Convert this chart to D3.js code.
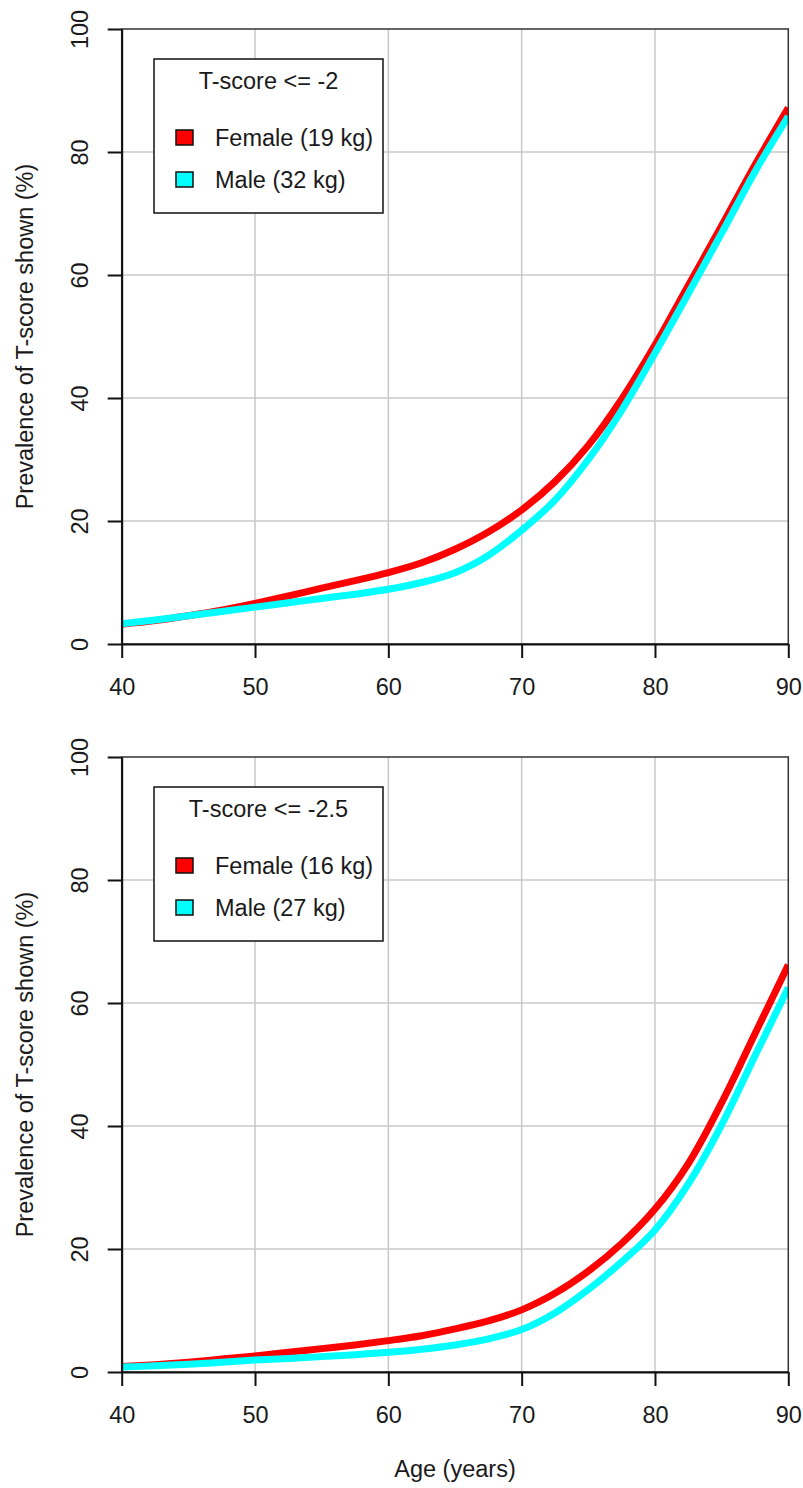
<!DOCTYPE html>
<html>
<head>
<meta charset="utf-8">
<script src="https://cdn.jsdelivr.net/npm/d3@7"></script>
<style>
  html, body { margin: 0; padding: 0; background: #fff; }
  svg { display: block; font-family: "Liberation Sans", Arial, Helvetica, sans-serif; }
</style>
</head>
<body>
<svg id="chart" width="803" height="1488"></svg>
<script>
// Age grid (years) on which the prevalence curves are tabulated
const ages = [40, 42.5, 45, 47.5, 50, 52.5, 55, 57.5, 60, 62.5, 65, 67.5, 70, 72.5, 75, 77.5, 80, 82.5, 85, 87.5, 90];

// Prevalence (%) of T-score <= -2
const femaleT2 = [3.2, 3.8, 4.6, 5.5, 6.6, 7.8, 9.1, 10.3, 11.6, 13.2, 15.4, 18.2, 21.8, 26.4, 32.3, 39.8, 48.6, 58.3, 68.0, 77.9, 87.2];
const maleT2   = [3.3, 3.9, 4.6, 5.3, 6.0, 6.7, 7.4, 8.1, 8.9, 10.0, 11.6, 14.4, 18.5, 23.4, 30.0, 38.0, 47.3, 57.0, 66.8, 76.8, 85.8];

// Prevalence (%) of T-score <= -2.5
const femaleT25 = [0.9, 1.2, 1.6, 2.1, 2.6, 3.2, 3.8, 4.4, 5.1, 5.9, 7.0, 8.3, 10.1, 12.8, 16.4, 20.9, 26.5, 33.9, 43.8, 55.0, 66.2];
const maleT25   = [0.8, 1.0, 1.25, 1.6, 1.95, 2.2, 2.5, 2.8, 3.2, 3.7, 4.4, 5.4, 6.9, 9.6, 13.4, 17.9, 23.1, 30.6, 40.2, 51.4, 62.5];

// Axis ticks and labels
const xTicks = [40, 50, 60, 70, 80, 90];
const yTicks = [0, 20, 40, 60, 80, 100];
const legendTitles = ["T-score <= -2", "T-score <= -2.5"];
const femaleLabels = ["Female (19 kg)", "Female (16 kg)"];
const maleLabels = ["Male (32 kg)", "Male (27 kg)"];
const seriesNames = ["Female", "Male"];
const seriesColors = ["#ff0000", "#00ffff"];
const xTitle = "Age (years)";
const yTitle = "Prevalence of T-score shown (%)";

const panelData = [
  { female: femaleT2, male: maleT2 },
  { female: femaleT25, male: maleT25 }
];

const svg = d3.select("#chart");
const FONT = 23.5;
const textColor = "#1a1a1a";

const left = 121.7, right = 788.3;
const plotTop = 29, plotBottom = 644;
const panelShift = 728;

const x = d3.scaleLinear().domain([40, 90]).range([left, right]);

panelData.forEach((pd, i) => {
  const off = i * panelShift;
  const y = d3.scaleLinear().domain([0, 100]).range([plotBottom + off, plotTop + off]);
  const g = svg.append("g");

  // clip region for the curves
  const clipId = "clip" + i;
  svg.append("clipPath").attr("id", clipId)
    .append("rect")
    .attr("x", x(40)).attr("y", y(100))
    .attr("width", x(90) - x(40)).attr("height", y(0) - y(100));

  // grid lines
  g.append("g").selectAll("line")
    .data(xTicks.filter(t => t > 40 && t < 90))
    .join("line")
    .attr("x1", d => x(d)).attr("x2", d => x(d))
    .attr("y1", y(0)).attr("y2", y(100))
    .attr("stroke", "#c8c8c8").attr("stroke-width", 1.5);
  g.append("g").selectAll("line")
    .data(yTicks.filter(t => t > 0 && t < 100))
    .join("line")
    .attr("x1", x(40)).attr("x2", x(90))
    .attr("y1", d => y(d)).attr("y2", d => y(d))
    .attr("stroke", "#c8c8c8").attr("stroke-width", 1.5);

  // curves
  const line = d3.line()
    .x((d, k) => x(ages[k]))
    .y(d => y(d))
    .curve(d3.curveCatmullRom.alpha(0.5));

  const curves = g.append("g").attr("clip-path", `url(#${clipId})`);
  [pd.female, pd.male].forEach((vals, s) => {
    curves.append("path")
      .datum(vals)
      .attr("d", line)
      .attr("fill", "none")
      .attr("stroke", seriesColors[s])
      .attr("stroke-width", 7)
      .attr("stroke-linejoin", "round")
      .attr("stroke-linecap", "butt");
  });

  // plot frame
  g.append("rect")
    .attr("x", x(40)).attr("y", y(100))
    .attr("width", x(90) - x(40)).attr("height", y(0) - y(100))
    .attr("fill", "none").attr("stroke", "#333").attr("stroke-width", 1.5);

  // bottom axis
  const xAxis = d3.axisBottom(x).tickValues(xTicks).tickSize(14).tickSizeOuter(0).tickPadding(20)
    .tickFormat(d3.format("d"));
  const gx = g.append("g").attr("transform", `translate(0,${y(0)})`).call(xAxis);
  gx.select(".domain").attr("stroke", "#111").attr("stroke-width", 2);
  gx.selectAll(".tick line").attr("stroke", "#111").attr("stroke-width", 2);
  gx.selectAll(".tick text")
    .attr("font-size", FONT).attr("fill", textColor)
    .attr("font-family", "Liberation Sans, Arial, sans-serif");

  // left axis with rotated labels
  const yAxis = d3.axisLeft(y).tickValues(yTicks).tickSize(14).tickSizeOuter(0)
    .tickFormat(d3.format("d"));
  const gy = g.append("g").attr("transform", `translate(${x(40)},0)`).call(yAxis);
  gy.select(".domain").attr("stroke", "#111").attr("stroke-width", 2);
  gy.selectAll(".tick line").attr("stroke", "#111").attr("stroke-width", 2);
  gy.selectAll(".tick text")
    .attr("x", null).attr("dy", null)
    .attr("text-anchor", "middle")
    .attr("transform", "translate(-34,0) rotate(-90)")
    .attr("font-size", FONT).attr("fill", textColor)
    .attr("font-family", "Liberation Sans, Arial, sans-serif");

  // y axis title
  g.append("text")
    .attr("transform", `translate(33,${(y(0) + y(100)) / 2}) rotate(-90)`)
    .attr("text-anchor", "middle")
    .attr("font-size", FONT).attr("fill", textColor)
    .text(yTitle);

  // legend
  const lg = g.append("g").attr("transform", `translate(154,${59 + off})`);
  lg.append("rect")
    .attr("width", 229).attr("height", 154)
    .attr("fill", "#fff").attr("stroke", "#111").attr("stroke-width", 1.5);
  lg.append("text")
    .attr("x", 114.5).attr("y", 30)
    .attr("text-anchor", "middle")
    .attr("font-size", FONT).attr("fill", textColor)
    .text(legendTitles[i]);
  const labels = [femaleLabels[i], maleLabels[i]];
  seriesNames.forEach((name, s) => {
    const rowY = 78 + s * 42;
    lg.append("rect")
      .attr("x", 22).attr("y", rowY - 7)
      .attr("width", 17).attr("height", 15)
      .attr("fill", seriesColors[s]).attr("stroke", "#111").attr("stroke-width", 1.5);
    lg.append("text")
      .attr("x", 61).attr("y", rowY + 9)
      .attr("font-size", FONT).attr("fill", textColor)
      .text(labels[s]);
  });
});

// x axis title below the lower panel
svg.append("text")
  .attr("x", (left + right) / 2).attr("y", 1477)
  .attr("text-anchor", "middle")
  .attr("font-size", FONT).attr("fill", textColor)
  .text(xTitle);
</script>
</body>
</html>
